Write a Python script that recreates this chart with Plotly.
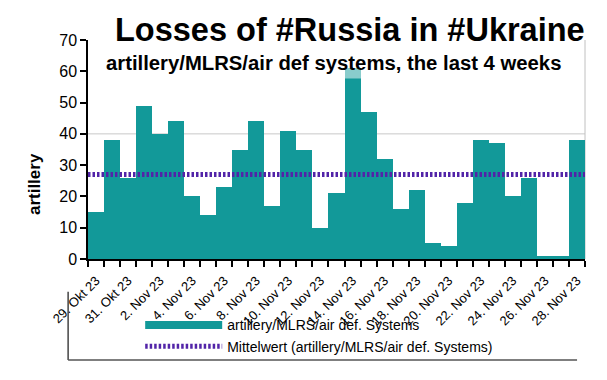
import plotly.graph_objects as go

dates = ["29. Okt 23", "30. Okt 23", "31. Okt 23", "1. Nov 23", "2. Nov 23", "3. Nov 23",
         "4. Nov 23", "5. Nov 23", "6. Nov 23", "7. Nov 23", "8. Nov 23", "9. Nov 23",
         "10. Nov 23", "11. Nov 23", "12. Nov 23", "13. Nov 23", "14. Nov 23", "15. Nov 23",
         "16. Nov 23", "17. Nov 23", "18. Nov 23", "19. Nov 23", "20. Nov 23", "21. Nov 23",
         "22. Nov 23", "23. Nov 23", "24. Nov 23", "25. Nov 23", "26. Nov 23", "27. Nov 23",
         "28. Nov 23"]
artillery = [15, 38, 26, 49, 40, 44, 20, 14, 23, 35, 44, 17, 41, 35, 10, 21,
             61, 47, 32, 16, 22, 5, 4, 18, 38, 37, 20, 26, 1, 1, 38]
mean_value = sum(artillery) / len(artillery)

series_name = "artillery/MLRS/air def. Systems"
mean_name = "Mittelwert (artillery/MLRS/air def. Systems)"
y_ticks = [0, 10, 20, 30, 40, 50, 60, 70]

TEAL = "#129999"
PURPLE = "#5224a8"
FONT = "Liberation Sans, Arial, sans-serif"

x = list(range(len(dates)))

fig = go.Figure()
fig.add_trace(go.Bar(x=x, y=artillery, marker=dict(color=TEAL, line=dict(width=0)),
                     width=1, showlegend=False, name=series_name))
fig.add_trace(go.Scatter(x=[x[0] - 0.5, x[-1] + 0.5], y=[mean_value, mean_value], mode="lines",
                         line=dict(color=PURPLE, width=5, dash="2.5px,2px"),
                         showlegend=False, name=mean_name))
# legend entries
fig.add_trace(go.Scatter(x=[None], y=[None], mode="lines", name=series_name,
                         line=dict(color=TEAL, width=8)))
fig.add_trace(go.Scatter(x=[None], y=[None], mode="lines", name=mean_name,
                         line=dict(color=PURPLE, width=5, dash="2.5px,2px")))

fig.update_layout(
    width=599, height=372,
    margin=dict(l=80, r=22, t=32, b=121),
    paper_bgcolor="white", plot_bgcolor="white",
    font=dict(family=FONT, color="black"),
    bargap=0,
    showlegend=True,
    legend=dict(x=0.105, y=-0.23, xanchor="left", yanchor="top", orientation="v",
                itemwidth=77, font=dict(size=14, color="black"), tracegroupgap=0,
                bgcolor="rgba(0,0,0,0)", itemsizing="trace"),
    xaxis=dict(range=[-0.5, len(dates) - 0.5], tickmode="array", tickvals=x[::2],
               ticktext=dates[::2], tickangle=-45, tickfont=dict(size=13),
               showline=True, linecolor="black", linewidth=2,
               ticks="outside", ticklen=7, tickcolor="rgba(0,0,0,0)",
               showgrid=False, zeroline=False, automargin=False,
               minor=dict(tickmode="linear", tick0=-0.5, dtick=1, ticks="outside",
                          ticklen=6, tickwidth=2, tickcolor="black", showgrid=False)),
    yaxis=dict(range=[0, 70], tickvals=y_ticks, tickfont=dict(size=16),
               showline=True, linecolor="black", linewidth=1.5, ticks="outside",
               ticklen=6, tickwidth=1.5, tickcolor="black", showgrid=False, zeroline=False,
               automargin=False),
    shapes=[
        dict(type="line", xref="paper", yref="y", x0=0, x1=1, y0=40, y1=40,
             line=dict(color="#c8c8c8", width=1), layer="below"),
        dict(type="line", xref="paper", yref="paper", x0=1, x1=1, y0=0, y1=1,
             line=dict(color="#c0c0c0", width=1), layer="below"),
        dict(type="line", xref="paper", yref="paper", x0=-0.040, x1=-0.040, y0=-0.15, y1=-0.461,
             line=dict(color="#444444", width=1.5)),
        dict(type="line", xref="paper", yref="paper", x0=-0.040, x1=0.984, y0=-0.461, y1=-0.461,
             line=dict(color="#555555", width=1.5)),
    ],
    annotations=[
        dict(text="<b>Losses of #Russia in #Ukraine</b>", xref="paper", yref="paper",
             x=0.527, y=1.046, xanchor="center", yanchor="middle", showarrow=False,
             font=dict(size=32.5, color="black")),
        dict(text="<b>artillery/MLRS/air def systems, the last 4 weeks</b>", xref="paper",
             yref="paper", x=0.493, y=0.895, xanchor="center", yanchor="middle", showarrow=False,
             font=dict(size=20.3, color="black"), bgcolor="rgba(255,255,255,0.5)", borderpad=4),
        dict(text="<b>artillery</b>", xref="paper", yref="paper", x=-0.1087, y=0.342,
             xanchor="center", yanchor="middle", textangle=-90, showarrow=False,
             font=dict(size=17, color="black")),
    ],
)

fig.write_html("out.html")
